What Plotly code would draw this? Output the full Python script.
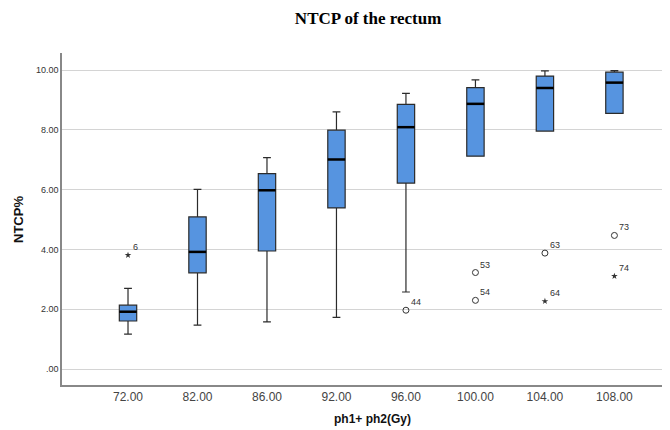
import plotly.graph_objects as go

categories = ["72.00", "82.00", "86.00", "92.00", "96.00", "100.00", "104.00", "108.00"]
q1 = [1.61, 3.22, 3.95, 5.39, 6.22, 7.12, 7.96, 8.55]
median = [1.92, 3.92, 5.98, 7.01, 8.09, 8.87, 9.40, 9.58]
q3 = [2.14, 5.09, 6.54, 7.99, 8.85, 9.41, 9.80, 9.93]
lower_whisker = [1.17, 1.47, 1.58, 1.73, 2.58, 7.12, 7.96, 8.55]
upper_whisker = [2.70, 6.01, 7.07, 8.60, 9.22, 9.67, 9.97, 9.98]

# outliers: category index, value, case label, type
out_cat = [0, 4, 5, 5, 6, 6, 7, 7]
out_val = [3.81, 1.97, 3.23, 2.30, 3.88, 2.27, 4.47, 3.11]
out_label = ["6", "44", "53", "54", "63", "64", "73", "74"]
out_extreme = [True, False, False, False, False, True, False, True]

ytick_vals = [0, 2, 4, 6, 8, 10]
ytick_text = [".00", "2.00", "4.00", "6.00", "8.00", "10.00"]

xs = list(range(len(categories)))
box_w = 0.25

fig = go.Figure()
fig.add_trace(go.Box(
    x=xs, q1=q1, median=median, q3=q3,
    lowerfence=lower_whisker, upperfence=upper_whisker,
    width=box_w, whiskerwidth=0.45,
    fillcolor="#5694E0", line=dict(color="#2b2b2b", width=1.2),
    boxpoints=False, showlegend=False, hoverinfo="skip",
))

# thicker median lines
mx, my = [], []
for i, m in zip(xs, median):
    mx += [i - box_w / 2, i + box_w / 2, None]
    my += [m, m, None]
fig.add_trace(go.Scatter(x=mx, y=my, mode="lines",
                         line=dict(color="black", width=2.5),
                         showlegend=False, hoverinfo="skip"))

for extreme in (False, True):
    idx = [k for k in range(len(out_val)) if out_extreme[k] == extreme]
    fig.add_trace(go.Scatter(
        x=[out_cat[k] for k in idx], y=[out_val[k] for k in idx],
        mode="markers", showlegend=False, hoverinfo="skip",
        marker=dict(symbol="star" if extreme else "circle-open",
                    size=5 if extreme else 6,
                    color="#333", line=dict(color="#333", width=1 if not extreme else 0))))

for k in range(len(out_val)):
    fig.add_annotation(x=out_cat[k], y=out_val[k], text=out_label[k],
                       showarrow=False, xanchor="left", yanchor="bottom",
                       xshift=3, yshift=1,
                       font=dict(family="Arial, Liberation Sans", size=9, color="#333"))

# page body has an 8px margin: figure is 662x422 and offsets account for it
fig.add_annotation(text="<b>NTCP%</b>", xref="paper", yref="paper",
                   x=-0.0724, y=0.5, textangle=-90, showarrow=False,
                   xanchor="center", yanchor="middle",
                   font=dict(family="Arial, Liberation Sans", size=13, color="#111"))
fig.add_annotation(text="<b>ph1+ ph2(Gy)</b>", xref="paper", yref="paper",
                   x=0.51, y=-0.102, showarrow=False,
                   xanchor="center", yanchor="middle",
                   font=dict(family="Arial, Liberation Sans", size=12, color="#111"))

fig.update_layout(
    width=662, height=422,
    margin=dict(l=54, r=0, t=45, b=45, autoexpand=False),
    paper_bgcolor="white", plot_bgcolor="white",
    title=dict(text="<b>NTCP of the rectum</b>", x=0.544, xanchor="center",
               y=0.976, yanchor="middle",
               font=dict(family="Liberation Serif, Times New Roman", size=17, color="black")),
    font=dict(family="Arial, Liberation Sans", color="#333"),
)
fig.update_xaxes(
    tickvals=xs, ticktext=categories, range=[-0.95, 7.8], automargin=False,
    showgrid=False, showline=True, linecolor="#888", linewidth=1.5,
    ticks="", tickfont=dict(size=12, color="#444"),
    zeroline=False,
)
fig.update_yaxes(
    tickvals=ytick_vals, ticktext=ytick_text, range=[-0.53, 10.57], automargin=False,
    showgrid=True, gridcolor="#d4d4d4", gridwidth=1.2,
    showline=True, linecolor="#888", linewidth=1.5,
    ticks="", tickfont=dict(size=9, color="#333"),
    zeroline=False,
)

fig.write_html("out.html")
